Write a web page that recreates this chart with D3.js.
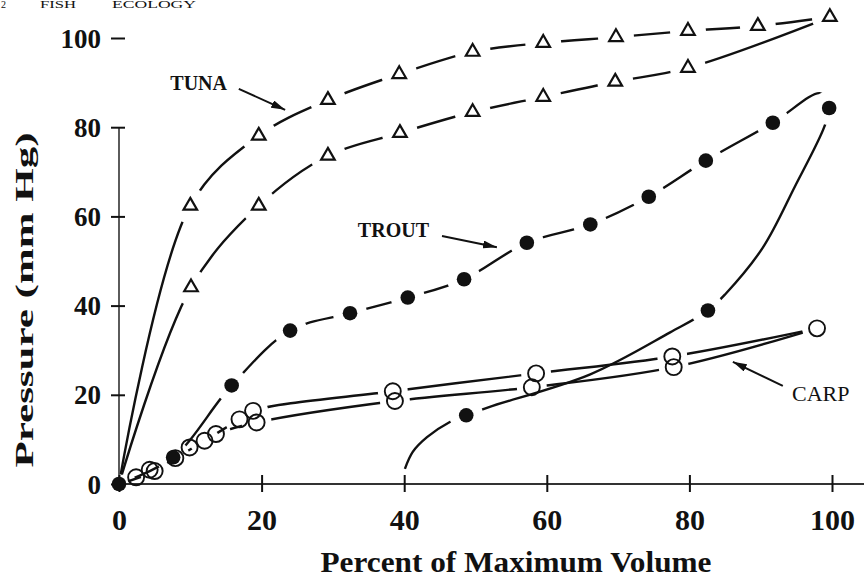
<!DOCTYPE html>
<html><head><meta charset="utf-8">
<script src="https://cdn.jsdelivr.net/npm/d3@7"></script>
<style>body{margin:0;background:#fff}svg{display:block}</style>
</head><body><svg id="c" width="864" height="578"></svg>
<script>
// ---- data ----
const xTicks = [0, 20, 40, 60, 80, 100];
const yTicks = [0, 20, 40, 60, 80, 100];

// Tuna: two branches of triangles (curves start at the origin)
const tunaUpper = [[10,62.4],[19.6,78.1],[29.3,86.1],[39.3,91.9],[49.6,96.9],[59.5,98.9],[69.7,100.2],[79.8,101.6],[89.6,102.7],[99.7,104.7]];
const tunaLower = [[10.1,44.1],[19.6,62.4],[29.3,73.6],[39.4,78.7],[49.6,83.4],[59.5,86.8],[69.6,90.2],[79.8,93.3]];

// Trout: filled dots
const troutUp = [[0,0],[7.6,6.0],[15.8,22.1],[24.0,34.4],[32.4,38.3],[40.5,41.8],[48.4,45.9],[57.2,54.1],[66.1,58.2],[74.3,64.4],[82.3,72.5],[91.7,81.0],[99.6,84.3]];
const troutDown = [[82.6,38.9],[48.7,15.4]];
// Trout hand-drawn loop trace (turn above the last dot, return branch ends near 40%)
const troutTurn = [[98.4,87.6]];
const troutReturn = [[98.9,80.0],[94.8,66.7],[90.3,53.0],[85.0,42.5],[82.6,38.9],[77.3,34.0],[66.1,24.6],[51.8,17.2],[48.7,15.4],[46.4,13.9],[43.2,10.5],[41.2,7.2],[40.1,3.4]];

// Carp: open circles, two near-parallel branches
const carpUpper = [[2.4,1.5],[4.3,3.2],[7.9,5.8],[12.0,9.7],[16.9,14.5],[18.8,16.4],[38.4,20.8],[58.5,24.8],[77.6,28.6],[97.9,34.9]];
const carpLower = [[5.0,2.9],[9.9,8.2],[13.6,11.2],[19.3,13.8],[38.7,18.6],[57.9,21.7],[77.8,26.2]];

// annotations (data coordinates)
const labels = [
  {text:"TUNA",  at:[7.2,88.3],  from:[16.8,88.6], to:[23.3,83.9], weight:"bold", size:20},
  {text:"TROUT", at:[33.5,55.4], from:[45.3,55.6], to:[53.0,53.1], weight:"bold", size:20},
  {text:"CARP",  at:[94.4,18.6], from:[93.1,22.0], to:[86.1,27.4], weight:"normal", size:22}
];

// ---- drawing ----
const W = 864, H = 578;
const svg = d3.select("#c");
const x = d3.scaleLinear().domain([0,100]).range([119, 832]);
const y = d3.scaleLinear().domain([0,100]).range([484, 38]);
const ink = "#111";
const serif = "'Liberation Serif','Times New Roman',serif";

const defs = svg.append("defs");
defs.append("marker").attr("id","ah").attr("viewBox","0 0 14 8").attr("refX",14).attr("refY",4)
  .attr("markerWidth",14).attr("markerHeight",8).attr("markerUnits","userSpaceOnUse").attr("orient","auto")
  .append("path").attr("d","M0,0 L14,4 L0,8 z").attr("fill",ink);

function makeMask(id, pts, r, extra) {
  const m = defs.append("mask").attr("id", id).attr("maskUnits","userSpaceOnUse")
    .attr("x",0).attr("y",0).attr("width",W).attr("height",H);
  m.append("rect").attr("width",W).attr("height",H).attr("fill","#fff");
  m.selectAll("circle.g").data(pts).join("circle")
    .attr("cx",d=>x(d[0])).attr("cy",d=>y(d[1])).attr("r",r).attr("fill","#000");
  (extra||[]).forEach(e => m.append("circle").attr("cx",x(e[0])).attr("cy",y(e[1])).attr("r",e[2]).attr("fill","#000"));
  return "url(#"+id+")";
}

const line = d3.line().x(d=>x(d[0])).y(d=>y(d[1])).curve(d3.curveCatmullRom.alpha(0.5));
const g = svg.append("g");

function drawCurve(pts, mask) {
  g.append("path").attr("d", line(pts)).attr("fill","none").attr("stroke",ink)
    .attr("stroke-width",2.4).attr("mask", mask);
}

// tuna curves
const tunaEnd = tunaUpper[tunaUpper.length-1];
drawCurve([[0,0], ...tunaUpper], makeMask("mTU", tunaUpper, 18, [[0,0,10]]));
drawCurve([[0,0], ...tunaLower, tunaEnd], makeMask("mTL", tunaLower.concat([tunaEnd]), 18, [[0,0,10]]));

// trout loop
drawCurve(troutUp.slice(0,-1).concat(troutTurn, [troutUp[troutUp.length-1]], troutReturn),
  makeMask("mTR", troutUp.concat(troutDown), 17));

// carp curves
const carpEnd = carpUpper[carpUpper.length-1];
drawCurve([[0,0], ...carpUpper], makeMask("mCU", carpUpper, 15, [[0,0,10]]));
drawCurve([[0,0], ...carpLower, carpEnd], makeMask("mCL", carpLower.concat([carpEnd]), 15, [[0,0,10]]));

// axes
const axisG = svg.append("g");
axisG.append("line").attr("x1",x(0)).attr("x2",W).attr("y1",y(0)).attr("y2",y(0))
  .attr("stroke","#333").attr("stroke-width",2);
axisG.append("line").attr("x1",x(0)).attr("x2",x(0)).attr("y1",y(0)).attr("y2",y(80))
  .attr("stroke","#333").attr("stroke-width",1.6);

const xAx = d3.axisBottom(x).tickValues(xTicks).tickSize(8).tickFormat(d3.format("d"));
const xg = svg.append("g").attr("transform",`translate(0,${y(0)})`).call(xAx);
xg.select(".domain").remove();
xg.selectAll(".tick line").attr("y1",-9).attr("y2",8).attr("stroke",ink).attr("stroke-width",2);
xg.selectAll(".tick text").attr("y",46).attr("dy",0).attr("fill",ink)
  .style("font-family",serif).style("font-weight","bold").style("font-size","30px");

const yAx = d3.axisLeft(y).tickValues(yTicks).tickSize(7).tickFormat(d3.format("d"));
const yg = svg.append("g").attr("transform",`translate(${x(0)},0)`).call(yAx);
yg.select(".domain").remove();
yg.selectAll(".tick line").attr("x1",-8).attr("x2",6).attr("stroke",ink).attr("stroke-width",2);
yg.selectAll(".tick text").attr("x",-18).attr("dy","0.34em").attr("fill",ink)
  .style("font-family",serif).style("font-weight","bold").style("font-size","27px");

// markers
const tri = d3.symbol(d3.symbolTriangle, 80);
svg.append("g").selectAll("path").data(tunaUpper.concat(tunaLower)).join("path")
  .attr("d", tri).attr("transform", d=>`translate(${x(d[0])},${y(d[1])})`)
  .attr("fill","none").attr("stroke",ink).attr("stroke-width",2.2);

svg.append("g").selectAll("circle").data(carpUpper.concat(carpLower)).join("circle")
  .attr("cx",d=>x(d[0])).attr("cy",d=>y(d[1])).attr("r",8)
  .attr("fill","none").attr("stroke",ink).attr("stroke-width",1.9);

svg.append("g").selectAll("circle").data(troutUp.concat(troutDown)).join("circle")
  .attr("cx",d=>x(d[0])).attr("cy",d=>y(d[1])).attr("r",7.3).attr("fill",ink);

// annotations
labels.forEach(l => {
  svg.append("text").attr("x",x(l.at[0])).attr("y",y(l.at[1])).text(l.text)
    .attr("fill",ink).style("font-family",serif).style("font-weight",l.weight).style("font-size",l.size+"px");
  svg.append("line").attr("x1",x(l.from[0])).attr("y1",y(l.from[1])).attr("x2",x(l.to[0])).attr("y2",y(l.to[1]))
    .attr("stroke",ink).attr("stroke-width",2).attr("marker-end","url(#ah)");
});

// axis titles
svg.append("text").attr("x",516).attr("y",572).attr("text-anchor","middle")
  .attr("textLength",391).attr("lengthAdjust","spacingAndGlyphs")
  .text("Percent of Maximum Volume").attr("fill",ink)
  .style("font-family",serif).style("font-weight","bold").style("font-size","30px");
svg.append("text").attr("transform","translate(33,300) rotate(-90)").attr("text-anchor","middle")
  .attr("textLength",335).attr("lengthAdjust","spacingAndGlyphs")
  .text("Pressure (mm Hg)").attr("fill",ink)
  .style("font-family",serif).style("font-weight","bold").style("font-size","26px");

// running head at the very top (only a thin strip of it shows in the reference)
const head = svg.append("g").attr("fill",ink).style("font-family",serif).style("font-size","10px");
head.append("text").attr("x",1).attr("y",8).text("2");
head.append("text").attr("x",40).attr("y",8).attr("textLength",36).attr("lengthAdjust","spacingAndGlyphs").text("FISH");
head.append("text").attr("x",112).attr("y",8).attr("textLength",84).attr("lengthAdjust","spacingAndGlyphs").text("ECOLOGY");
</script></body></html>
